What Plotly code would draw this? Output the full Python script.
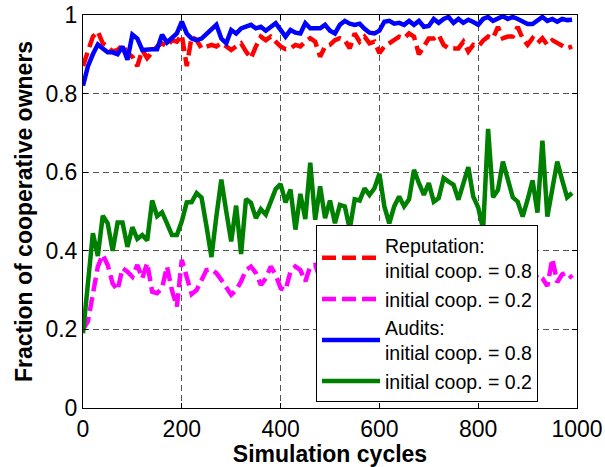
import plotly.graph_objects as go

cycles = list(range(0, 1000, 10))

rep_08 = [0.87, 0.905, 0.945, 0.958, 0.928, 0.92, 0.907, 0.911, 0.924, 0.903,
          0.894, 0.87, 0.911, 0.89, 0.903, 0.92, 0.928, 0.92, 0.936, 0.932,
          0.949, 0.87, 0.945, 0.936, 0.915, 0.92, 0.924, 0.92, 0.928, 0.92,
          0.911, 0.92, 0.928, 0.907, 0.89, 0.92, 0.945, 0.936, 0.945, 0.932,
          0.92, 0.913, 0.915, 0.924, 0.92, 0.932, 0.941, 0.932, 0.894, 0.92,
          0.924, 0.936, 0.941, 0.936, 0.915, 0.953, 0.932, 0.945, 0.928, 0.932,
          0.903, 0.92, 0.928, 0.936, 0.945, 0.941, 0.953, 0.945, 0.90, 0.92,
          0.94, 0.94, 0.949, 0.924, 0.915, 0.915, 0.915, 0.932, 0.907, 0.924,
          0.92, 0.935, 0.945, 0.941, 0.97, 0.941, 0.945, 0.945, 0.97, 0.94,
          0.924, 0.941, 0.928, 0.941, 0.924, 0.936, 0.928, 0.92, 0.915, 0.92]

rep_02 = [0.2, 0.22, 0.29, 0.36, 0.39, 0.364, 0.317, 0.30, 0.356, 0.347,
          0.334, 0.364, 0.33, 0.369, 0.296, 0.292, 0.305, 0.36, 0.30, 0.258,
          0.377, 0.334, 0.29, 0.30, 0.326, 0.351, 0.353, 0.343, 0.326, 0.309,
          0.288, 0.30, 0.322, 0.351, 0.36, 0.343, 0.313, 0.33, 0.36, 0.339,
          0.305, 0.30, 0.347, 0.36, 0.351, 0.322, 0.36, 0.364, 0.33, 0.345,
          0.32, 0.34, 0.355, 0.31, 0.33, 0.35, 0.325, 0.34, 0.36, 0.33,
          0.315, 0.345, 0.35, 0.32, 0.335, 0.36, 0.33, 0.34, 0.315, 0.35,
          0.34, 0.325, 0.355, 0.33, 0.31, 0.345, 0.36, 0.33, 0.34, 0.32,
          0.35, 0.335, 0.315, 0.345, 0.36, 0.33, 0.34, 0.325, 0.35, 0.33,
          0.345, 0.32, 0.34, 0.33, 0.31, 0.38, 0.32, 0.34, 0.345, 0.33]

aud_08 = [0.82, 0.87, 0.90, 0.925, 0.915, 0.905, 0.905, 0.90, 0.92, 0.886,
          0.95, 0.94, 0.911, 0.913, 0.913, 0.913, 0.95, 0.93, 0.94, 0.953,
          0.983, 0.953, 0.94, 0.936, 0.94, 0.953, 0.965, 0.975, 0.94, 0.928,
          0.962, 0.953, 0.966, 0.97, 0.975, 0.966, 0.97, 0.96, 0.97, 0.979,
          0.962, 0.945, 0.962, 0.955, 0.953, 0.979, 0.966, 0.966, 0.966, 0.975,
          0.96, 0.953, 0.975, 0.985, 0.978, 0.975, 0.978, 0.965, 0.955, 0.953,
          0.96, 0.983, 0.985, 0.978, 0.98, 0.975, 0.985, 0.975, 0.985, 0.97,
          0.972, 0.99, 0.98, 0.99, 0.995, 0.98, 0.99, 0.98, 0.988, 0.982,
          0.975, 0.99, 0.995, 0.985, 0.99, 0.997, 0.99, 0.995, 0.99, 0.985,
          0.977, 0.977, 0.985, 0.995, 0.985, 0.99, 0.983, 0.99, 0.987, 0.988]

aud_02 = [0.19, 0.33, 0.445, 0.387, 0.489, 0.47, 0.40, 0.472, 0.472, 0.41,
          0.46, 0.43, 0.44, 0.426, 0.528, 0.488, 0.498, 0.47, 0.44, 0.44,
          0.475, 0.523, 0.524, 0.547, 0.535, 0.462, 0.384, 0.488, 0.581, 0.50,
          0.424, 0.515, 0.392, 0.532, 0.522, 0.483, 0.506, 0.492, 0.522, 0.557,
          0.57, 0.523, 0.556, 0.454, 0.545, 0.481, 0.624, 0.479, 0.564, 0.483,
          0.528, 0.47, 0.517, 0.513, 0.455, 0.531, 0.528, 0.559, 0.542, 0.559,
          0.596, 0.513, 0.47, 0.513, 0.538, 0.513, 0.531, 0.606, 0.572, 0.542,
          0.572, 0.525, 0.534, 0.585, 0.576, 0.568, 0.53, 0.568, 0.613, 0.538,
          0.51, 0.455, 0.71, 0.536, 0.555, 0.627, 0.58, 0.536, 0.525, 0.487,
          0.53, 0.579, 0.497, 0.68, 0.487, 0.564, 0.627, 0.58, 0.536, 0.547]

x_ticks = [0, 200, 400, 600, 800, 1000]
y_ticks = [0, 0.2, 0.4, 0.6, 0.8, 1]

FONT = "Liberation Sans, Arial, sans-serif"
LW = 4.5
DASH = "14px,6px"

fig = go.Figure()
fig.add_trace(go.Scatter(x=cycles, y=rep_08, mode="lines",
                         name="Reputation:<br>initial coop. = 0.8",
                         line=dict(color="#FF0000", width=LW, dash=DASH)))
fig.add_trace(go.Scatter(x=cycles, y=rep_02, mode="lines",
                         name="initial coop. = 0.2",
                         line=dict(color="#FF00FF", width=LW, dash=DASH)))
fig.add_trace(go.Scatter(x=cycles, y=aud_08, mode="lines",
                         name="Audits:<br>initial coop. = 0.8",
                         line=dict(color="#0000FF", width=LW)))
fig.add_trace(go.Scatter(x=cycles, y=aud_02, mode="lines",
                         name="initial coop. = 0.2",
                         line=dict(color="#008000", width=LW)))

axis_common = dict(
    showline=True, linecolor="black", linewidth=1, mirror="ticks",
    ticks="inside", ticklen=5, tickcolor="black",
    showgrid=True, gridcolor="#555555", gridwidth=1, griddash="6px,4px",
    zeroline=False, tickfont=dict(family=FONT, size=23, color="black"),
)

fig.update_layout(
    width=605, height=467,
    margin=dict(l=83, r=28, t=15, b=59),
    paper_bgcolor="white", plot_bgcolor="white",
    font=dict(family=FONT, color="black"),
    showlegend=True,
    legend=dict(x=0.4717, y=0.4656, xanchor="left", yanchor="top",
                bgcolor="white", bordercolor="black", borderwidth=1,
                font=dict(family=FONT, size=19.5, color="black"),
                itemwidth=58, tracegroupgap=0, valign="middle",
                traceorder="normal"),
    xaxis=dict(range=[0, 1000], tickvals=x_ticks, automargin=False,
               title=dict(text="<b>Simulation cycles</b>",
                          font=dict(family=FONT, size=23)),
               **axis_common),
    yaxis=dict(range=[0, 1], tickvals=y_ticks, automargin="left",
               title=dict(text="<b>Fraction of cooperative owners</b>",
                          font=dict(family=FONT, size=23), standoff=6),
               **axis_common),
)

fig.write_html("out.html")
